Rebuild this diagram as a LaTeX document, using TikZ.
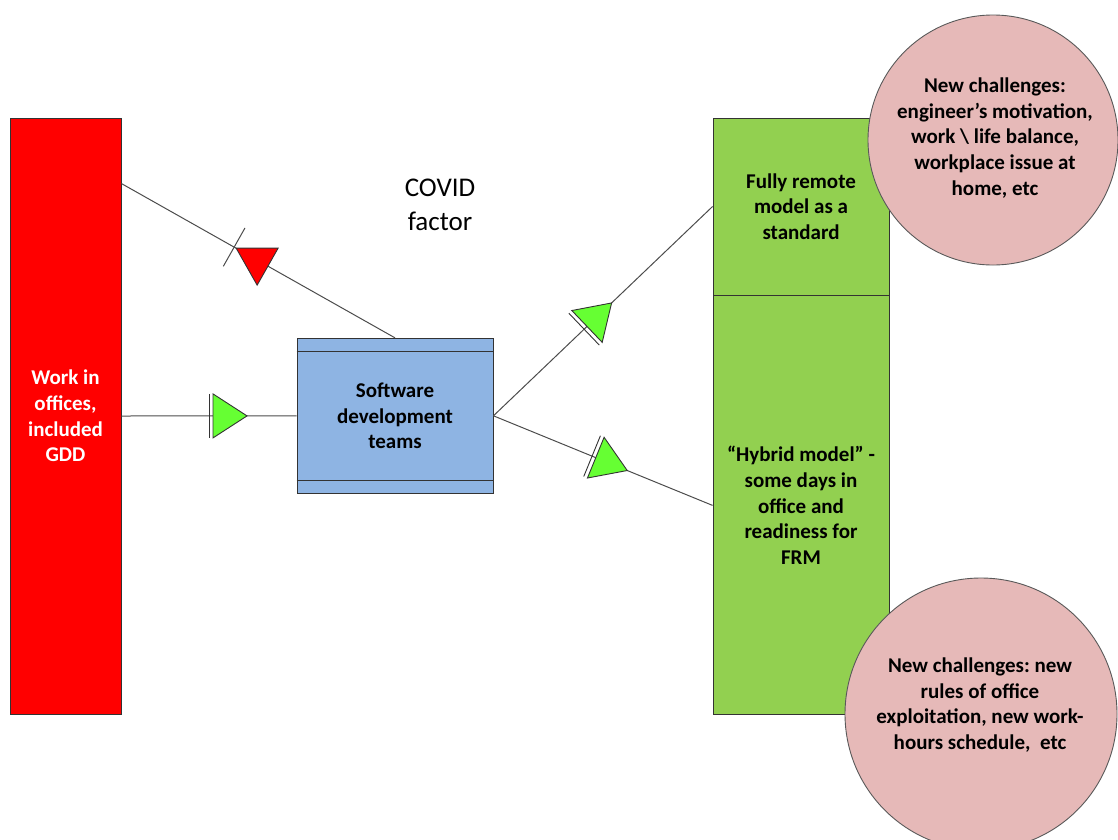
\documentclass[tikz,border=0pt]{standalone}
\usepackage{fontspec}
\setmainfont{Carlito}
\usepackage{xcolor}
\usetikzlibrary{calc}

\definecolor{offred}{RGB}{255,0,0}
\definecolor{teamblue}{RGB}{142,180,227}
\definecolor{modelgreen}{RGB}{146,208,80}
\definecolor{riskpink}{RGB}{230,185,184}
\definecolor{gategreen}{RGB}{102,255,51}

\tikzset{
 box/.style={draw=black!80, line width=0.9pt, inner sep=0pt, align=center,
  font=\frenchspacing\bfseries\fontsize{21}{25.7}\selectfont},
 challenge/.style={circle, draw=black!65, line width=0.9pt, fill=riskpink, inner sep=0pt},
 wire/.style={draw=black!70, line width=1pt},
 gate/.pic={
  \draw[black!80, line width=0.9pt, fill=gategreen] (0,-22) -- (34,0) -- (0,22) -- cycle;
  \draw[black!80, line width=0.9pt] (-4,-22) -- (-4,22);
 }
}

\begin{document}
\begin{tikzpicture}[x=1pt,y=-1pt]
\useasboundingbox (0,0) rectangle (1118,839);

\node[box, fill=offred, text=white, minimum width=111, minimum height=596] (office) at (65.5,416) {Work in\\offices,\\included\\GDD};

\node[box, fill=teamblue, minimum width=196, minimum height=155] (teams) at (395,415.8) {Software\\development\\teams};
\draw[black!80, line width=0.9pt] ([yshift=-14]teams.north west) -- ([yshift=-14]teams.north east)
 ([yshift=13]teams.south west) -- ([yshift=13]teams.south east);

\node[box, fill=modelgreen, minimum width=176, minimum height=177] (remote) at (801,206.5) {Fully remote\\model as a\\standard};
\node[box, fill=modelgreen, minimum width=176, minimum height=419, anchor=north] (hybrid) at (remote.south) {“Hybrid model” -\\some days in\\office and\\readiness for\\FRM};

\node[font=\fontsize{27}{34}\selectfont, align=center] (covid) at (440,205) {COVID\\factor};

% wires
\coordinate (exit) at ([yshift=-66]office.north east);
\draw[wire] (exit) -- (teams.north) coordinate[pos=0.412] (cut);
\draw[wire] (office.east) -- (teams.west);
\draw[wire] (teams.east) -- (remote.west);
\draw[wire] (teams.east) -- (hybrid.west);

% markers
\draw[wire] ($(cut)!22pt!90:(teams.north)$) -- ($(cut)!22pt!-90:(teams.north)$);
\draw[black!80, line width=0.9pt, fill=offred] ([shift={(2,1)}]cut) -- ++(42,0) -- ++(-21,37) -- cycle;
\path (office.east) -- (teams.west) pic[pos=0.523]{gate};
\path (teams.east) -- (remote.west) pic[pos=0.427, sloped]{gate};
\path (teams.east) -- (hybrid.west) pic[pos=0.467, sloped]{gate};

% challenges
\node[challenge, minimum size=250] (risk1) at (993,140) {};
\node[box, draw=none] (risk1text) at (995,138) {New challenges:\\engineer’s motivation,\\work \textbackslash\ life balance,\\workplace issue at\\home, etc};
\node[challenge, minimum size=272] (risk2) at (981,714) {};
\node[box, draw=none] (risk2text) at (980,705) {New challenges: new\\rules of office\\exploitation, new work-\\hours schedule,\ \ etc};

\end{tikzpicture}
\end{document}
